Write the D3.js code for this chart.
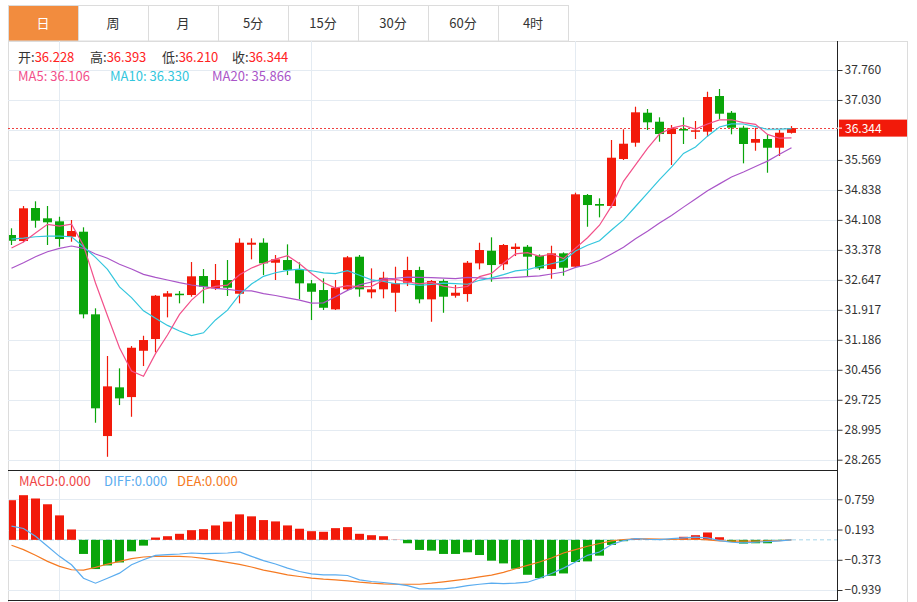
<!DOCTYPE html>
<html><head><meta charset="utf-8">
<script src="https://cdn.jsdelivr.net/npm/d3@7"></script>
<style>
html,body{margin:0;padding:0;background:#fff;}
svg{display:block;font-family:"Noto Sans CJK SC","Noto Sans",sans-serif;}
</style></head><body><svg id="c" width="917" height="602"></svg>
<script>
const tabs = ["日","周","月","5分","15分","30分","60分","4时"];
const opens = [33.740,33.593,34.397,34.146,34.073,33.698,33.820,31.807,28.841,30.028,29.791,30.919,31.205,32.236,32.309,32.277,32.740,32.440,32.643,32.309,33.503,33.552,33.064,33.130,32.886,32.562,32.399,31.928,32.416,33.211,32.343,32.416,32.333,32.577,32.886,32.172,32.618,32.260,32.301,33.049,33.357,33.025,33.398,33.454,33.235,32.910,33.293,32.967,34.714,34.495,34.446,35.592,35.988,36.719,36.500,36.200,36.322,36.257,36.257,37.126,36.719,36.354,35.988,36.079,35.866,36.228];
const highs = [33.903,34.446,34.561,34.446,34.185,34.105,33.927,31.953,30.791,30.491,31.034,31.285,32.277,32.374,32.374,33.081,32.910,33.033,33.130,33.659,33.659,33.659,33.252,33.512,33.073,32.643,32.684,32.643,33.227,33.252,32.927,32.845,32.967,33.211,32.967,32.643,32.660,32.521,33.106,33.552,33.683,33.520,33.536,33.496,33.268,33.479,33.317,34.771,34.738,34.633,36.054,36.315,36.866,36.810,36.607,36.420,36.607,36.517,37.231,37.297,36.761,36.403,36.354,36.176,36.298,36.393];
const lows = [33.496,33.562,33.917,33.496,33.454,33.576,31.709,29.166,28.336,29.596,29.311,30.547,30.880,31.733,32.075,32.236,32.075,32.399,32.253,32.075,33.147,32.764,32.643,32.764,32.172,31.668,31.912,31.912,32.399,32.236,32.197,32.197,31.870,32.496,32.075,31.626,31.845,32.212,32.114,32.903,32.601,32.886,33.227,32.740,32.886,32.674,32.748,32.952,33.941,34.170,34.405,35.567,35.891,36.298,36.013,35.445,35.957,36.079,36.135,36.559,36.193,35.486,35.793,35.257,35.665,36.210];
const closes = [33.600,34.390,34.088,34.049,33.642,33.837,31.807,29.517,30.052,29.759,30.993,31.181,32.260,32.318,32.277,32.733,32.479,32.643,32.455,33.552,33.552,33.049,33.147,32.886,32.562,32.357,31.967,32.455,33.196,32.416,32.416,32.699,32.562,32.886,32.172,32.618,32.236,32.333,33.064,33.374,33.008,33.496,33.454,33.211,32.927,33.293,32.942,34.731,34.470,34.454,35.623,35.964,36.729,36.485,36.200,36.339,36.291,36.291,37.102,36.695,36.354,35.957,36.079,35.866,36.232,36.344];
const ma5 = [33.423,33.569,33.788,34.000,33.954,34.001,33.485,32.570,31.771,30.994,30.426,30.300,30.849,31.302,31.806,32.154,32.413,32.490,32.517,32.772,32.936,33.050,33.151,33.237,33.039,32.800,32.584,32.445,32.507,32.478,32.490,32.636,32.658,32.596,32.547,32.587,32.495,32.449,32.485,32.725,32.803,33.055,33.279,33.309,33.219,33.276,33.165,33.421,33.673,33.978,34.444,35.048,35.448,35.851,36.200,36.343,36.409,36.321,36.445,36.544,36.547,36.480,36.437,36.190,36.098,36.106];
const ma10 = [33.641,33.665,33.697,33.714,33.714,33.697,33.453,33.195,32.903,32.474,32.213,31.893,31.710,31.537,31.400,31.290,31.357,31.670,31.910,32.289,32.545,32.732,32.821,32.877,32.906,32.868,32.817,32.798,32.872,32.759,32.645,32.610,32.552,32.552,32.513,32.539,32.566,32.553,32.540,32.636,32.695,32.775,32.864,32.897,32.972,33.040,33.110,33.350,33.491,33.599,33.860,34.107,34.434,34.762,35.089,35.394,35.729,35.885,36.148,36.372,36.445,36.444,36.379,36.317,36.321,36.330];
const ma20 = [32.928,33.065,33.211,33.333,33.415,33.472,33.415,33.277,33.172,33.026,32.911,32.782,32.709,32.643,32.578,32.521,32.480,32.441,32.417,32.382,32.379,32.312,32.265,32.207,32.153,32.079,32.087,32.234,32.391,32.524,32.595,32.671,32.686,32.714,32.709,32.703,32.691,32.676,32.706,32.697,32.670,32.693,32.708,32.724,32.742,32.789,32.838,32.952,33.015,33.117,33.278,33.441,33.649,33.829,34.031,34.217,34.419,34.617,34.819,34.985,35.153,35.276,35.407,35.540,35.705,35.866];
const macdHist = [0.742,0.836,0.774,0.666,0.458,0.194,-0.264,-0.547,-0.479,-0.423,-0.215,-0.108,0.043,0.068,0.113,0.181,0.200,0.270,0.340,0.477,0.440,0.370,0.345,0.270,0.208,0.162,0.151,0.219,0.238,0.113,0.087,0.068,0.004,-0.064,-0.189,-0.202,-0.264,-0.264,-0.233,-0.284,-0.390,-0.441,-0.541,-0.654,-0.717,-0.673,-0.629,-0.415,-0.403,-0.296,-0.095,-0.025,0.020,0.010,0.005,0.005,0.057,0.087,0.138,0.049,-0.038,-0.070,-0.064,-0.064,-0.005,0.000];
const diff = [0.257,0.213,0.068,-0.121,-0.309,-0.466,-0.718,-0.812,-0.718,-0.624,-0.466,-0.372,-0.290,-0.277,-0.265,-0.246,-0.258,-0.252,-0.246,-0.227,-0.309,-0.390,-0.453,-0.529,-0.592,-0.636,-0.655,-0.655,-0.667,-0.749,-0.780,-0.799,-0.824,-0.856,-0.919,-0.919,-0.919,-0.894,-0.856,-0.831,-0.812,-0.818,-0.812,-0.793,-0.718,-0.630,-0.529,-0.415,-0.290,-0.227,-0.089,-0.013,0.024,0.011,0.005,0.024,0.036,0.049,0.036,-0.013,-0.045,-0.057,-0.045,-0.032,-0.020,0.000];
const dea = [-0.101,-0.183,-0.290,-0.403,-0.497,-0.560,-0.566,-0.516,-0.453,-0.403,-0.352,-0.321,-0.309,-0.309,-0.309,-0.321,-0.346,-0.384,-0.421,-0.459,-0.509,-0.566,-0.610,-0.655,-0.686,-0.718,-0.737,-0.749,-0.768,-0.793,-0.812,-0.824,-0.831,-0.831,-0.831,-0.812,-0.787,-0.760,-0.730,-0.692,-0.661,-0.610,-0.541,-0.478,-0.415,-0.340,-0.246,-0.183,-0.120,-0.069,-0.019,0.006,0.019,0.019,0.013,0.006,0.013,0.013,0.000,-0.020,-0.025,-0.025,-0.025,-0.020,-0.013,0.000];
const priceTicks = [37.760,37.030,36.299,35.569,34.838,34.108,33.378,32.647,31.917,31.186,30.456,29.725,28.995,28.265];
const priceLabelTicks = [37.760,37.030,35.569,34.838,34.108,33.378,32.647,31.917,31.186,30.456,29.725,28.995,28.265];
const macdTicks = [0.759,0.193,-0.373,-0.939];
const monthStarts = [4,25,47];
const lastOpen = 36.228, lastHigh = 36.393, lastLow = 36.210, lastClose = 36.344;
const ma5Last = 36.106, ma10Last = 36.330, ma20Last = 35.866;

const RED = "#f21a0a", GREEN = "#0aa50a";
const C5 = "#f2508a", C10 = "#33c6dd", C20 = "#aa55c8";
const GRID = "#e4ebf2";
const L = 8, R = 837, RB = 907;
const mainTop = 41, mainBot = 470, macdBot = 600;

const svg = d3.select("#c");
const n = closes.length;
const x = d3.scaleLinear().domain([0, n - 1]).range([11.5, 791.5]);
const y = d3.scaleLinear().domain([28.265, 37.760]).range([459.7, 70]);
const ym = d3.scaleLinear().domain([-0.939, 0.759]).range([590, 499.3]);

// tabs
const tg = svg.append("g");
tabs.forEach((t, k) => {
  tg.append("rect").attr("x", L + 70 * k + 0.5).attr("y", 5.5).attr("width", 70).attr("height", 35.5)
    .attr("fill", k === 0 ? "#f28c3e" : "#fff").attr("stroke", "#dcdcdc");
  tg.append("text").attr("x", L + 70 * k + 35).attr("y", 28).attr("text-anchor", "middle")
    .attr("font-size", 13).attr("fill", k === 0 ? "#fff" : "#333").text(t);
});
// panel borders
svg.append("line").attr("x1", L).attr("x2", RB).attr("y1", 41.5).attr("y2", 41.5).attr("stroke", "#dcdcdc");
svg.append("line").attr("x1", L + 0.5).attr("x2", L + 0.5).attr("y1", 41).attr("y2", 602).attr("stroke", "#dcdcdc");
svg.append("line").attr("x1", RB + 0.5).attr("x2", RB + 0.5).attr("y1", 41).attr("y2", 602).attr("stroke", "#dcdcdc");

// grid
const grid = svg.append("g");
priceTicks.forEach(v => grid.append("line").attr("x1", L).attr("x2", R).attr("y1", Math.round(y(v)) + 0.5).attr("y2", Math.round(y(v)) + 0.5).attr("stroke", GRID));
macdTicks.forEach(v => grid.append("line").attr("x1", L).attr("x2", R).attr("y1", Math.round(ym(v)) + 0.5).attr("y2", Math.round(ym(v)) + 0.5).attr("stroke", GRID));
monthStarts.forEach(i => grid.append("line").attr("x1", Math.floor(x(i)) + 0.5).attr("x2", Math.floor(x(i)) + 0.5).attr("y1", mainTop).attr("y2", macdBot).attr("stroke", GRID));

// clips
const defs = svg.append("defs");
defs.append("clipPath").attr("id", "cm").append("rect").attr("x", L + 1).attr("y", mainTop + 1).attr("width", R - L - 1).attr("height", mainBot - mainTop - 1);
defs.append("clipPath").attr("id", "cd").append("rect").attr("x", L + 1).attr("y", mainBot + 1).attr("width", R - L - 1).attr("height", macdBot - mainBot - 1);

// current price dotted line
svg.append("line").attr("x1", L).attr("x2", R).attr("y1", Math.round(y(lastClose)) + 0.5).attr("y2", Math.round(y(lastClose)) + 0.5)
  .attr("stroke", "#f04040").attr("stroke-dasharray", "2,2");

// candles
const cg = svg.append("g").attr("clip-path", "url(#cm)");
d3.range(n).forEach(i => {
  const up = closes[i] >= opens[i];
  const col = up ? RED : GREEN;
  const cx = x(i);
  cg.append("line").attr("x1", cx).attr("x2", cx).attr("y1", y(highs[i])).attr("y2", y(lows[i])).attr("stroke", col).attr("stroke-width", 1.2);
  const top = y(Math.max(opens[i], closes[i])), bot = y(Math.min(opens[i], closes[i]));
  cg.append("rect").attr("x", cx - 4.5).attr("y", top).attr("width", 9).attr("height", Math.max(1.5, bot - top)).attr("fill", col);
});

// MA lines
const lineP = d3.line().x((d, i) => x(i)).y(d => y(d));
[[ma20, C20], [ma10, C10], [ma5, C5]].forEach(([arr, col]) => {
  cg.append("path").datum(arr).attr("d", lineP).attr("fill", "none").attr("stroke", col).attr("stroke-width", 1.2);
});

// MACD
const mg = svg.append("g").attr("clip-path", "url(#cd)");
mg.append("line").attr("x1", L).attr("x2", R).attr("y1", ym(0)).attr("y2", ym(0)).attr("stroke", "#a8d6ea").attr("stroke-dasharray", "4,3");
macdHist.forEach((v, i) => {
  const y0 = ym(0), y1 = ym(v);
  mg.append("rect").attr("x", x(i) - 4.5).attr("y", Math.min(y0, y1)).attr("width", 9).attr("height", Math.abs(y1 - y0))
    .attr("fill", v >= 0 ? RED : GREEN);
});
const lineM = d3.line().x((d, i) => x(i)).y(d => ym(d));
mg.append("path").datum(dea).attr("d", lineM).attr("fill", "none").attr("stroke", "#f57a22").attr("stroke-width", 1.2);
mg.append("path").datum(diff).attr("d", lineM).attr("fill", "none").attr("stroke", "#5aacef").attr("stroke-width", 1.2);

// panel separators
svg.append("line").attr("x1", L).attr("x2", R).attr("y1", mainBot + 0.5).attr("y2", mainBot + 0.5).attr("stroke", "#222");
svg.append("line").attr("x1", L).attr("x2", R).attr("y1", macdBot + 0.5).attr("y2", macdBot + 0.5).attr("stroke", "#222");

// axes
const ax = svg.append("g").attr("transform", `translate(${R + 0.5},0)`)
  .call(d3.axisRight(y).tickValues(priceLabelTicks).tickSize(5).tickFormat(d3.format(".3f")));
ax.select(".domain").remove();
const ax2 = svg.append("g").attr("transform", `translate(${R + 0.5},0)`)
  .call(d3.axisRight(ym).tickValues(macdTicks).tickSize(5).tickFormat(d3.format(".3f")));
ax2.select(".domain").remove();
[ax, ax2].forEach(a => {
  a.selectAll("text").attr("font-size", 12).attr("fill", "#333").attr("font-family", "'Noto Sans CJK SC','Noto Sans',sans-serif").attr("x", 7);
  a.selectAll("line").attr("stroke", "#333");
});
svg.append("line").attr("x1", R + 0.5).attr("x2", R + 0.5).attr("y1", mainTop).attr("y2", macdBot + 1).attr("stroke", "#222");

// current price label
const py = y(lastClose);
svg.append("rect").attr("x", R + 2).attr("y", py - 8.5).attr("width", RB - R - 2).attr("height", 17).attr("fill", "#f21a0a");
svg.append("line").attr("x1", R).attr("x2", R + 5).attr("y1", py).attr("y2", py).attr("stroke", "#fff");
svg.append("text").attr("x", R + 8).attr("y", py + 4.5).attr("font-size", 12).attr("fill", "#fff").text(d3.format(".3f")(lastClose));

// info text
const fmt = d3.format(".3f");
const info = svg.append("text").attr("y", 62).attr("font-size", 13);
[["开", lastOpen, 18], ["高", lastHigh, 90], ["低", lastLow, 162], ["收", lastClose, 232]].forEach(([k, v, px]) => {
  info.append("tspan").attr("x", px).attr("fill", "#333").text(k + ":");
  info.append("tspan").attr("fill", "#f22").text(fmt(v));
});
const mainfo = svg.append("text").attr("y", 80.5).attr("font-size", 13);
[["MA5: ", ma5Last, 18, C5], ["MA10: ", ma10Last, 110, C10], ["MA20: ", ma20Last, 212, C20]].forEach(([k, v, px, c]) => {
  mainfo.append("tspan").attr("x", px).attr("fill", c).text(k + fmt(v));
});
const macdInfo = svg.append("text").attr("y", 486).attr("font-size", 13);
[["MACD:", macdHist[n - 1], 19, "#f04646"], ["DIFF:", diff[n - 1], 104, "#5aacef"], ["DEA:", dea[n - 1], 177, "#f57a22"]].forEach(([k, v, px, c]) => {
  macdInfo.append("tspan").attr("x", px).attr("fill", c).text(k + fmt(Math.abs(v)));
});
</script></body></html>
